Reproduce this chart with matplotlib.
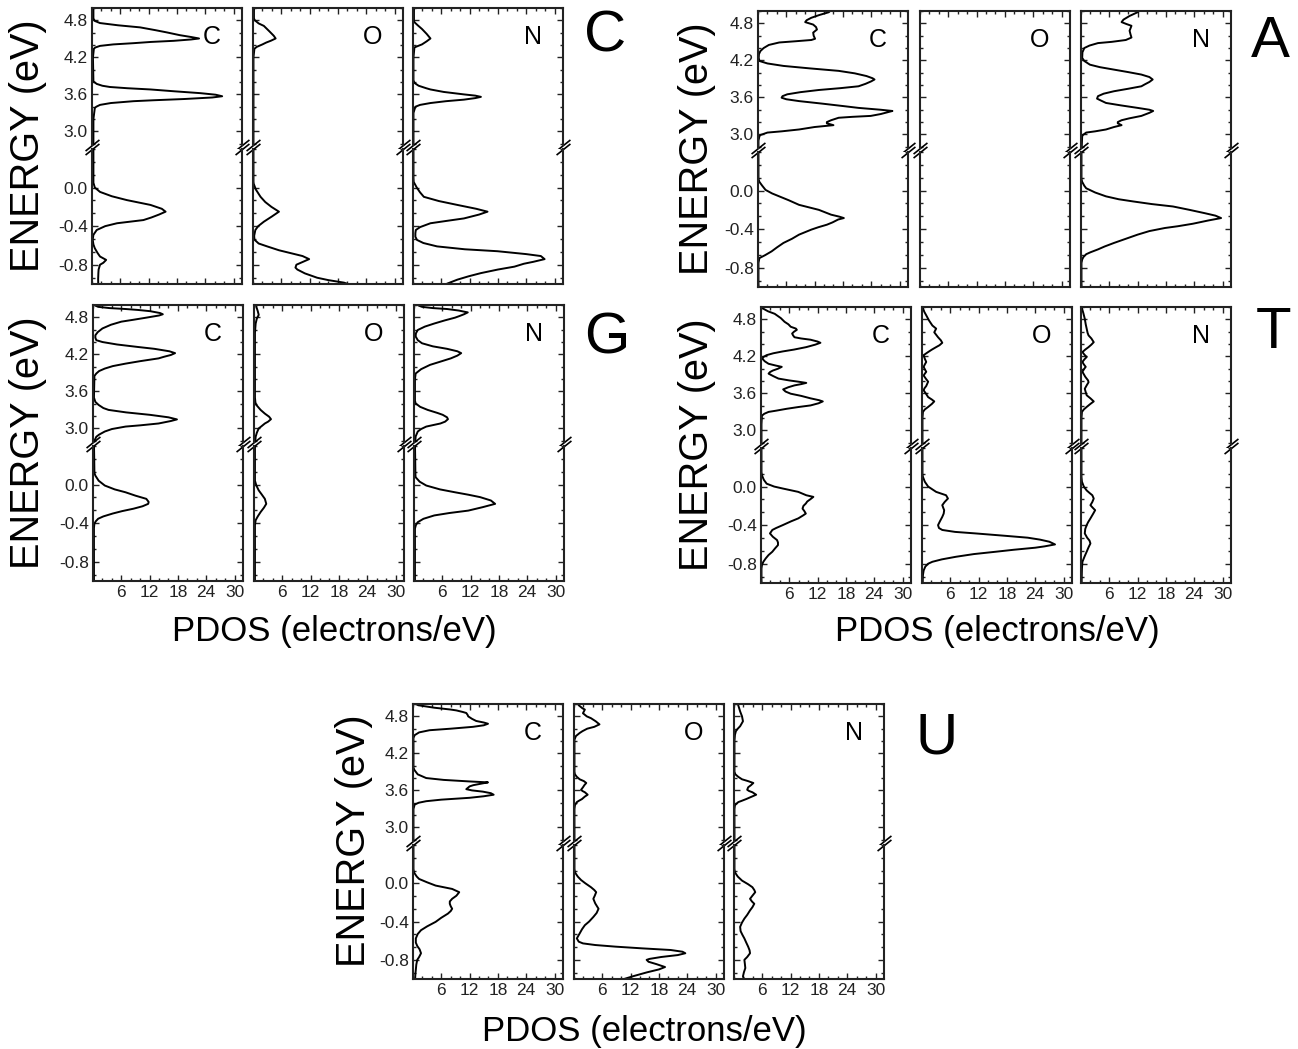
import matplotlib.pyplot as plt
from matplotlib.ticker import MultipleLocator, AutoMinorLocator

plt.rcParams['font.family'] = ['Liberation Sans', 'DejaVu Sans']

# PDOS curves: (energy eV, PDOS electrons/eV)
# "hi" = upper window (2.8..5.0 eV), "lo" = lower window (-1.0..0.4 eV)

# ---- C ----
C_C_hi = [(5.05, 0.3), (4.83, 0.3), (4.79, 0.6), (4.756, 1.7), (4.72, 5.5), (4.686, 10.2), (4.64, 13.5),
          (4.604, 15.9), (4.56, 18.6), (4.53, 21.0), (4.506, 22.7), (4.49, 21.0), (4.468, 17.3), (4.45, 12.5),
          (4.43, 8.8), (4.41, 4.5), (4.386, 1.7), (4.36, 0.7), (4.34, 0.4), (4.2, 0.2), (3.81, 0.3), (3.77, 1.0),
          (3.74, 2.2), (3.72, 3.8), (3.70, 7.5), (3.68, 12.4), (3.65, 17.5), (3.62, 23.0), (3.595, 26.2),
          (3.57, 27.6), (3.55, 25.5), (3.525, 19.5), (3.505, 13.0), (3.49, 8.8), (3.46, 4.0), (3.43, 1.7),
          (3.40, 0.9), (3.38, 0.6), (3.2, 0.3), (2.7, 0.3)]
C_C_lo = [(0.45, 0.3), (0.05, 0.3), (0.0, 0.6), (-0.045, 1.7), (-0.09, 4.2), (-0.13, 7.4), (-0.18, 12.4),
          (-0.22, 14.8), (-0.25, 15.6), (-0.28, 14.2), (-0.31, 12.6), (-0.337, 10.9), (-0.37, 5.3), (-0.40, 2.8),
          (-0.44, 1.0), (-0.49, 0.3), (-0.54, 0.15), (-0.59, 0.3), (-0.63, 0.6), (-0.68, 1.2), (-0.715, 1.7),
          (-0.75, 3.0), (-0.78, 2.4), (-0.80, 1.7), (-0.85, 1.4), (-0.887, 1.35), (-0.95, 1.3), (-1.05, 1.35)]
C_O_hi = [(5.05, 0.2), (4.83, 0.2), (4.80, 0.4), (4.75, 1.2), (4.71, 2.3), (4.62, 3.5), (4.55, 4.4),
          (4.506, 4.8), (4.47, 3.8), (4.44, 2.8), (4.41, 2.0), (4.37, 0.8), (4.34, 0.3), (4.2, 0.1), (2.7, 0.1)]
C_O_lo = [(0.45, 0.1), (0.06, 0.1), (0.04, 0.15), (-0.02, 0.6), (-0.096, 1.6), (-0.15, 2.6), (-0.20, 3.9),
          (-0.25, 5.5), (-0.30, 4.0), (-0.354, 2.3), (-0.40, 1.1), (-0.44, 0.5), (-0.50, 0.25), (-0.54, 0.3),
          (-0.58, 1.2), (-0.61, 3.0), (-0.65, 5.5), (-0.68, 8.0), (-0.71, 10.5), (-0.742, 11.9), (-0.77, 10.6),
          (-0.80, 9.2), (-0.83, 9.0), (-0.85, 9.4), (-0.89, 11.0), (-0.935, 13.6), (-0.96, 16.0),
          (-0.986, 19.3), (-1.05, 23.0)]
C_N_hi = [(5.05, 0.2), (4.80, 0.2), (4.77, 0.3), (4.72, 1.0), (4.66, 1.9), (4.58, 2.9), (4.506, 3.7),
          (4.46, 2.9), (4.41, 1.9), (4.38, 0.9), (4.36, 0.3), (4.2, 0.1), (3.83, 0.1), (3.786, 0.3), (3.74, 1.2),
          (3.70, 2.8), (3.68, 3.7), (3.64, 6.5), (3.60, 10.8), (3.58, 13.2), (3.56, 14.4), (3.54, 13.2),
          (3.515, 10.8), (3.49, 7.0), (3.46, 3.7), (3.43, 1.5), (3.40, 0.5), (3.3, 0.1), (2.7, 0.1)]
C_N_lo = [(0.45, 0.1), (0.10, 0.1), (0.058, 0.15), (0.0, 0.8), (-0.05, 1.5), (-0.096, 2.3), (-0.14, 5.5),
          (-0.18, 9.4), (-0.22, 13.4), (-0.25, 15.8), (-0.28, 14.0), (-0.32, 10.8), (-0.345, 7.2), (-0.37, 3.7),
          (-0.41, 1.5), (-0.44, 0.6), (-0.474, 0.5), (-0.51, 0.5), (-0.543, 0.85), (-0.575, 2.2), (-0.61, 5.1),
          (-0.64, 11.0), (-0.66, 17.9), (-0.69, 24.0), (-0.71, 27.1), (-0.742, 27.9), (-0.77, 25.5),
          (-0.79, 23.5), (-0.82, 21.5), (-0.85, 18.0), (-0.887, 14.4), (-0.92, 11.8), (-0.955, 9.4),
          (-0.997, 7.2), (-1.05, 5.5)]

# ---- A ----
A_C_hi = [(5.05, 16.0), (4.98, 15.0), (4.935, 13.0), (4.89, 11.3), (4.85, 10.3), (4.82, 10.0), (4.78, 11.7),
          (4.74, 12.3), (4.70, 12.5), (4.65, 11.7), (4.60, 11.8), (4.55, 12.1), (4.53, 11.3), (4.51, 8.0),
          (4.49, 4.5), (4.45, 2.3), (4.40, 1.2), (4.35, 0.5), (4.30, 0.2), (4.24, 0.15), (4.19, 0.3),
          (4.15, 2.0), (4.11, 5.4), (4.07, 11.0), (4.03, 17.1), (3.99, 20.5), (3.946, 23.0), (3.91, 24.3),
          (3.89, 24.7), (3.86, 24.0), (3.82, 22.8), (3.78, 21.3), (3.75, 17.5), (3.72, 12.9), (3.685, 9.0),
          (3.65, 6.2), (3.62, 5.2), (3.595, 5.0), (3.57, 6.0), (3.54, 8.7), (3.50, 13.5), (3.46, 18.0),
          (3.43, 21.3), (3.40, 26.0), (3.38, 28.5), (3.36, 27.5), (3.33, 26.0), (3.30, 23.9), (3.285, 20.0),
          (3.27, 17.1), (3.23, 15.5), (3.20, 14.6), (3.18, 14.6), (3.15, 16.0), (3.12, 12.0), (3.08, 8.7),
          (3.05, 5.0), (3.03, 2.0), (2.99, 0.5), (2.97, 0.3), (2.9, 0.1), (2.7, 0.1)]
A_C_lo = [(0.45, 0.1), (0.12, 0.1), (0.09, 0.3), (0.05, 0.9), (0.007, 1.6), (-0.03, 3.0), (-0.06, 4.5),
          (-0.10, 6.5), (-0.148, 8.7), (-0.20, 12.9), (-0.25, 15.5), (-0.27, 17.2), (-0.285, 18.2),
          (-0.30, 17.0), (-0.33, 15.8), (-0.354, 14.6), (-0.38, 12.8), (-0.405, 11.3), (-0.457, 8.7),
          (-0.50, 7.2), (-0.543, 5.4), (-0.59, 4.0), (-0.63, 2.9), (-0.67, 1.5), (-0.70, 0.3), (-0.75, 0.1),
          (-1.05, 0.1)]
A_O_hi = []
A_O_lo = []
A_N_hi = [(5.05, 13.0), (4.98, 12.0), (4.92, 10.3), (4.86, 9.0), (4.82, 8.6), (4.79, 9.6), (4.76, 10.7),
          (4.72, 10.5), (4.68, 10.3), (4.62, 10.5), (4.57, 10.7), (4.53, 9.5), (4.50, 6.5), (4.48, 3.6),
          (4.44, 1.8), (4.40, 0.7), (4.33, 0.3), (4.24, 0.25), (4.19, 0.7), (4.13, 1.9), (4.09, 4.0),
          (4.05, 7.0), (4.01, 10.0), (3.97, 12.8), (3.93, 14.5), (3.89, 15.2), (3.85, 14.5), (3.81, 13.5),
          (3.78, 12.8), (3.74, 10.0), (3.70, 7.0), (3.66, 4.8), (3.62, 3.6), (3.58, 3.4), (3.55, 4.2),
          (3.51, 5.3), (3.47, 8.5), (3.43, 12.0), (3.40, 14.5), (3.38, 15.3), (3.35, 14.5), (3.30, 12.8),
          (3.26, 10.2), (3.23, 8.6), (3.20, 7.8), (3.18, 7.8), (3.15, 8.6), (3.12, 7.0), (3.08, 5.3),
          (3.05, 3.0), (3.03, 1.1), (2.99, 0.4), (2.97, 0.25), (2.7, 0.1)]
A_N_lo = [(0.45, 0.1), (0.12, 0.1), (0.09, 0.25), (0.05, 0.7), (0.024, 1.1), (-0.02, 3.0), (-0.06, 5.3),
          (-0.09, 8.0), (-0.113, 11.1), (-0.14, 15.0), (-0.165, 19.5), (-0.20, 23.0), (-0.234, 26.2),
          (-0.26, 28.5), (-0.285, 29.7), (-0.31, 27.0), (-0.344, 23.7), (-0.37, 20.5), (-0.388, 17.8),
          (-0.42, 14.5), (-0.457, 12.0), (-0.50, 9.5), (-0.543, 7.0), (-0.58, 5.0), (-0.61, 3.6),
          (-0.64, 2.0), (-0.66, 1.1), (-0.69, 0.5), (-0.715, 0.25), (-0.75, 0.1), (-1.05, 0.1)]

# ---- G ----
G_C_hi = [(5.05, 0.3), (4.99, 0.5), (4.97, 1.1), (4.95, 3.5), (4.935, 6.9), (4.92, 9.5), (4.90, 12.1),
          (4.87, 14.2), (4.85, 14.8), (4.83, 14.0), (4.795, 11.3), (4.76, 8.5), (4.73, 6.0), (4.68, 3.8),
          (4.62, 2.0), (4.56, 1.0), (4.51, 0.5), (4.47, 0.5), (4.43, 0.7), (4.40, 2.0), (4.36, 5.1),
          (4.32, 9.5), (4.29, 13.0), (4.25, 16.2), (4.22, 17.4), (4.19, 16.5), (4.16, 15.0), (4.135, 13.9),
          (4.09, 10.0), (4.05, 6.9), (4.01, 4.2), (3.97, 2.5), (3.93, 1.3), (3.89, 0.7), (3.85, 0.3),
          (3.5, 0.2), (3.43, 0.5), (3.38, 1.2), (3.33, 2.2), (3.30, 3.3), (3.26, 7.0), (3.22, 12.1),
          (3.18, 16.0), (3.146, 17.8), (3.12, 16.5), (3.08, 13.9), (3.05, 10.0), (3.03, 6.9), (2.99, 4.0),
          (2.95, 2.5), (2.90, 1.3), (2.865, 0.7), (2.80, 0.3), (2.7, 0.2)]
G_C_lo = [(0.45, 0.2), (0.12, 0.3), (0.093, 0.5), (0.04, 1.2), (-0.01, 2.5), (-0.05, 4.6), (-0.08, 6.9),
          (-0.115, 9.0), (-0.148, 11.3), (-0.18, 11.8), (-0.20, 11.7), (-0.225, 10.5), (-0.25, 8.6),
          (-0.275, 6.2), (-0.30, 4.2), (-0.33, 2.2), (-0.354, 1.1), (-0.38, 0.6), (-0.405, 0.3), (-0.45, 0.2),
          (-1.05, 0.2)]
G_O_hi = [(5.05, 0.5), (4.97, 0.5), (4.90, 0.8), (4.84, 1.0), (4.78, 0.6), (4.70, 0.35), (4.55, 0.2),
          (3.50, 0.2), (3.42, 0.3), (3.38, 0.5), (3.30, 1.4), (3.24, 2.3), (3.19, 3.2), (3.15, 3.6),
          (3.11, 3.0), (3.08, 2.3), (3.03, 1.5), (3.0, 1.0), (2.93, 0.6), (2.865, 0.35), (2.7, 0.2)]
G_O_lo = [(0.45, 0.2), (0.04, 0.2), (-0.01, 0.5), (-0.06, 1.0), (-0.10, 1.6), (-0.148, 2.3), (-0.2, 2.6),
          (-0.24, 2.1), (-0.285, 1.4), (-0.33, 0.8), (-0.37, 0.35), (-0.42, 0.2), (-1.05, 0.2)]
G_N_hi = [(5.05, 0.5), (4.99, 1.0), (4.97, 1.7), (4.95, 4.0), (4.935, 7.0), (4.91, 9.5), (4.88, 11.4),
          (4.85, 10.6), (4.82, 9.6), (4.795, 8.7), (4.75, 6.5), (4.70, 4.3), (4.65, 2.3), (4.595, 0.8),
          (4.54, 0.4), (4.49, 0.35), (4.43, 0.8), (4.38, 1.7), (4.33, 4.0), (4.29, 7.0), (4.25, 9.2),
          (4.22, 10.0), (4.18, 9.2), (4.135, 7.8), (4.08, 5.5), (4.03, 3.4), (3.96, 1.5), (3.89, 0.35),
          (3.80, 0.2), (3.45, 0.2), (3.405, 0.35), (3.35, 1.3), (3.30, 2.9), (3.25, 5.0), (3.22, 6.1),
          (3.18, 7.0), (3.15, 7.2), (3.11, 6.6), (3.08, 5.6), (3.03, 2.6), (2.99, 1.5), (2.95, 0.8),
          (2.87, 0.35), (2.7, 0.2)]
G_N_lo = [(0.45, 0.2), (0.10, 0.3), (0.076, 0.35), (0.03, 1.2), (-0.01, 2.6), (-0.05, 5.5), (-0.08, 8.7),
          (-0.105, 11.5), (-0.13, 14.0), (-0.165, 16.3), (-0.20, 17.2), (-0.235, 14.5), (-0.27, 11.5),
          (-0.295, 7.5), (-0.32, 4.3), (-0.355, 2.0), (-0.39, 0.8), (-0.42, 0.4), (-0.457, 0.2), (-1.05, 0.2)]

# ---- T ----
T_C_hi = [(5.05, 0.2), (4.98, 0.3), (4.93, 1.5), (4.89, 2.9), (4.82, 4.2), (4.76, 5.0), (4.72, 5.8),
          (4.68, 6.3), (4.65, 7.4), (4.63, 7.6), (4.60, 7.0), (4.57, 6.6), (4.54, 6.8), (4.51, 7.1),
          (4.49, 8.5), (4.47, 10.5), (4.44, 12.0), (4.42, 12.6), (4.39, 11.5), (4.35, 9.6), (4.31, 7.0),
          (4.28, 4.6), (4.25, 2.6), (4.22, 1.2), (4.19, 0.5), (4.16, 0.3), (4.12, 0.8), (4.08, 1.6),
          (4.05, 3.2), (4.03, 4.4), (4.00, 3.6), (3.97, 2.5), (3.945, 1.9), (3.92, 1.6), (3.88, 2.6),
          (3.84, 3.7), (3.81, 6.0), (3.79, 7.9), (3.77, 9.6), (3.75, 8.5), (3.73, 7.1), (3.70, 5.8),
          (3.665, 4.7), (3.63, 5.2), (3.595, 6.3), (3.56, 8.5), (3.52, 10.5), (3.49, 12.3), (3.47, 13.1),
          (3.44, 12.2), (3.405, 10.5), (3.38, 8.0), (3.35, 5.4), (3.32, 3.2), (3.30, 1.6), (3.27, 0.7),
          (3.24, 0.2), (3.1, 0.1), (2.7, 0.1)]
T_C_lo = [(0.45, 0.1), (0.15, 0.1), (0.117, 0.2), (0.07, 0.6), (0.03, 1.2), (0.0, 2.8), (-0.02, 4.6),
          (-0.055, 7.9), (-0.09, 9.6), (-0.107, 11.1), (-0.13, 10.5), (-0.155, 9.8), (-0.176, 9.5),
          (-0.20, 9.0), (-0.228, 8.8), (-0.255, 9.2), (-0.28, 9.5), (-0.30, 8.9), (-0.33, 7.9), (-0.36, 6.4),
          (-0.40, 4.6), (-0.43, 3.2), (-0.45, 2.4), (-0.486, 1.9), (-0.52, 2.5), (-0.555, 3.4), (-0.58, 3.6),
          (-0.607, 3.6), (-0.64, 3.0), (-0.676, 2.4), (-0.71, 1.6), (-0.745, 1.0), (-0.78, 0.5),
          (-0.814, 0.2), (-0.85, 0.1), (-1.05, 0.1)]
T_O_hi = [(5.05, 0.1), (4.98, 0.2), (4.92, 0.5), (4.865, 0.9), (4.78, 1.5), (4.70, 2.2), (4.65, 3.0),
          (4.62, 2.8), (4.59, 2.6), (4.55, 3.0), (4.51, 3.4), (4.46, 4.0), (4.42, 4.3), (4.38, 3.7),
          (4.35, 3.0), (4.31, 2.1), (4.27, 1.3), (4.22, 0.35), (4.16, 0.6), (4.11, 0.9), (4.07, 0.6),
          (4.03, 0.35), (3.99, 0.6), (3.95, 0.9), (3.92, 0.6), (3.89, 0.35), (3.84, 0.8), (3.79, 1.3),
          (3.755, 1.1), (3.72, 0.9), (3.68, 0.5), (3.65, 0.35), (3.60, 0.8), (3.54, 1.3), (3.50, 2.1),
          (3.47, 2.6), (3.43, 2.1), (3.38, 1.3), (3.34, 0.6), (3.30, 0.2), (3.2, 0.1), (2.7, 0.1)]
T_O_lo = [(0.45, 0.1), (0.13, 0.1), (0.10, 0.2), (0.05, 0.6), (0.0, 1.3), (-0.055, 3.0), (-0.09, 5.1),
          (-0.124, 5.5), (-0.16, 4.8), (-0.193, 4.3), (-0.22, 4.5), (-0.245, 4.7), (-0.28, 4.6),
          (-0.314, 4.3), (-0.36, 3.8), (-0.40, 3.4), (-0.43, 3.6), (-0.45, 4.3), (-0.47, 7.0), (-0.486, 11.4),
          (-0.51, 17.5), (-0.53, 22.4), (-0.55, 25.0), (-0.572, 27.0), (-0.60, 28.2), (-0.62, 26.0),
          (-0.634, 24.0), (-0.655, 19.5), (-0.676, 15.6), (-0.70, 11.0), (-0.728, 7.2), (-0.755, 4.2),
          (-0.78, 2.2), (-0.80, 1.3), (-0.83, 0.7), (-0.87, 0.35), (-0.917, 0.2), (-1.05, 0.1)]
T_N_hi = [(5.05, 0.1), (4.98, 0.2), (4.90, 0.5), (4.81, 0.8), (4.72, 1.0), (4.65, 1.2), (4.58, 1.4),
          (4.54, 1.6), (4.49, 2.2), (4.43, 2.7), (4.39, 2.2), (4.35, 1.6), (4.31, 0.9), (4.27, 0.3),
          (4.23, 0.7), (4.19, 1.2), (4.15, 0.7), (4.11, 0.3), (4.07, 0.6), (4.03, 1.0), (3.99, 0.6),
          (3.95, 0.3), (3.87, 0.9), (3.81, 1.5), (3.78, 1.6), (3.73, 1.2), (3.675, 0.8), (3.62, 1.0),
          (3.57, 1.2), (3.52, 2.0), (3.47, 2.7), (3.43, 2.0), (3.38, 1.2), (3.34, 0.6), (3.30, 0.2),
          (3.2, 0.1), (2.7, 0.1)]
T_N_lo = [(0.45, 0.1), (0.10, 0.1), (0.05, 0.2), (0.0, 0.6), (-0.04, 1.2), (-0.07, 1.9), (-0.09, 2.4),
          (-0.124, 2.7), (-0.16, 2.4), (-0.193, 2.0), (-0.22, 2.5), (-0.245, 3.0), (-0.28, 2.6), (-0.33, 2.0),
          (-0.37, 1.5), (-0.40, 1.2), (-0.44, 0.9), (-0.486, 0.8), (-0.53, 1.3), (-0.56, 1.8), (-0.59, 2.0),
          (-0.63, 1.6), (-0.676, 1.2), (-0.72, 0.8), (-0.78, 0.3), (-0.85, 0.2), (-1.05, 0.1)]

# ---- U ----
U_C_hi = [(5.05, 0.3), (5.0, 0.6), (4.98, 1.1), (4.94, 4.5), (4.91, 8.0), (4.896, 9.2), (4.87, 10.6),
          (4.854, 11.3), (4.82, 11.6), (4.80, 11.7), (4.76, 12.5), (4.725, 13.4), (4.70, 15.0), (4.68, 15.9),
          (4.655, 15.0), (4.63, 12.7), (4.60, 8.0), (4.575, 3.5), (4.54, 1.3), (4.495, 0.35), (4.45, 0.1),
          (3.97, 0.1), (3.93, 0.3), (3.86, 1.0), (3.80, 2.8), (3.77, 6.5), (3.745, 12.0), (3.73, 15.9),
          (3.71, 14.5), (3.685, 12.8), (3.665, 12.0), (3.62, 11.3), (3.60, 12.5), (3.58, 14.8), (3.555, 16.5),
          (3.53, 17.1), (3.505, 15.0), (3.48, 12.0), (3.45, 6.0), (3.425, 2.8), (3.40, 1.2), (3.37, 0.35),
          (3.3, 0.1), (2.7, 0.1)]
U_C_lo = [(0.45, 0.1), (0.15, 0.1), (0.114, 0.2), (0.07, 0.8), (0.045, 1.3), (0.01, 3.0), (-0.024, 4.8),
          (-0.059, 8.3), (-0.093, 9.8), (-0.13, 9.2), (-0.162, 8.3), (-0.19, 7.8), (-0.214, 7.8), (-0.24, 8.0),
          (-0.266, 8.3), (-0.29, 8.0), (-0.317, 7.4), (-0.36, 6.0), (-0.403, 4.8), (-0.45, 3.0), (-0.49, 1.7),
          (-0.53, 1.0), (-0.576, 0.6), (-0.62, 0.6), (-0.655, 0.9), (-0.69, 1.4), (-0.731, 1.7), (-0.77, 1.3),
          (-0.80, 0.9), (-0.85, 0.7), (-0.903, 0.6), (-0.95, 0.5), (-1.05, 0.4)]
U_O_hi = [(5.05, 0.6), (4.98, 1.0), (4.93, 1.8), (4.91, 2.3), (4.88, 2.1), (4.85, 1.9), (4.80, 2.7),
          (4.77, 3.6), (4.72, 4.6), (4.67, 5.4), (4.63, 4.3), (4.60, 2.8), (4.56, 1.8), (4.53, 1.2),
          (4.48, 0.4), (4.42, 0.1), (3.9, 0.1), (3.86, 0.2), (3.82, 0.6), (3.78, 1.2), (3.75, 2.1), (3.72, 2.6),
          (3.685, 2.2), (3.65, 1.9), (3.61, 1.5), (3.59, 1.8), (3.57, 2.3), (3.53, 2.9), (3.50, 2.3),
          (3.46, 1.7), (3.43, 1.0), (3.41, 0.6), (3.36, 0.2), (3.3, 0.1), (2.7, 0.1)]
U_O_lo = [(0.45, 0.1), (0.15, 0.1), (0.114, 0.2), (0.07, 0.8), (0.034, 1.5), (0.0, 2.4), (-0.041, 3.6),
          (-0.07, 4.3), (-0.093, 4.7), (-0.13, 4.4), (-0.162, 4.1), (-0.21, 4.5), (-0.266, 5.2), (-0.31, 4.8),
          (-0.352, 4.1), (-0.40, 3.2), (-0.438, 2.3), (-0.48, 1.7), (-0.524, 1.2), (-0.576, 0.6), (-0.61, 1.0),
          (-0.628, 1.9), (-0.645, 4.5), (-0.662, 8.8), (-0.68, 14.5), (-0.697, 20.5), (-0.715, 23.0),
          (-0.731, 23.6), (-0.75, 22.0), (-0.77, 18.5), (-0.79, 16.0), (-0.80, 15.4), (-0.82, 15.8),
          (-0.845, 17.5), (-0.875, 19.3), (-0.90, 18.0), (-0.93, 15.5), (-0.97, 12.6), (-1.0, 10.6),
          (-1.05, 8.5)]
U_N_hi = [(5.05, 0.6), (4.98, 0.9), (4.88, 1.3), (4.80, 1.7), (4.72, 1.9), (4.68, 1.6), (4.64, 1.3),
          (4.60, 0.8), (4.56, 0.4), (4.50, 0.2), (4.4, 0.1), (3.9, 0.1), (3.86, 0.3), (3.82, 0.9), (3.78, 1.7),
          (3.75, 3.0), (3.72, 4.1), (3.685, 3.6), (3.65, 3.0), (3.61, 2.8), (3.59, 3.2), (3.57, 3.9),
          (3.53, 4.7), (3.50, 3.8), (3.46, 2.6), (3.43, 1.6), (3.41, 0.9), (3.36, 0.2), (3.3, 0.1), (2.7, 0.1)]
U_N_lo = [(0.45, 0.1), (0.15, 0.1), (0.114, 0.2), (0.07, 0.8), (0.028, 1.7), (-0.01, 3.0), (-0.041, 3.9),
          (-0.07, 4.3), (-0.093, 4.5), (-0.13, 3.9), (-0.162, 3.4), (-0.19, 3.8), (-0.214, 4.3), (-0.25, 3.9),
          (-0.283, 3.4), (-0.33, 2.8), (-0.369, 2.2), (-0.41, 1.7), (-0.455, 1.3), (-0.50, 1.4), (-0.54, 1.8),
          (-0.576, 2.2), (-0.62, 2.6), (-0.662, 3.0), (-0.70, 3.3), (-0.731, 3.4), (-0.77, 2.8), (-0.80, 2.2),
          (-0.84, 2.3), (-0.886, 2.4), (-0.93, 2.1), (-0.972, 1.9), (-1.007, 2.2), (-1.05, 2.2)]

atoms = ['C', 'O', 'N']
hi_ticks = [3.0, 3.6, 4.2, 4.8]
lo_ticks = [0.0, -0.4, -0.8]
x_ticks = [6, 12, 18, 24, 30]

W, H = 1298, 1049
fig = plt.figure(figsize=(W / 100, H / 100), dpi=100)


def frac(l, t, w, h):
    return [l / W, 1 - (t + h) / H, w / W, h / H]


def px(x, y):
    return x / W, 1 - y / H


HI_LIM = (2.78, 5.0)
LO_LIM = (-1.0, 0.40)
XLIM = (0, 31.8)

groups = [
    dict(name='C', curves=[(C_C_hi, C_C_lo), (C_O_hi, C_O_lo), (C_N_hi, C_N_lo)],
         top=8, bot=284, lefts=(92, 253, 413), letter=(605, 37), ylab=(28, 146), xlab=None),
    dict(name='A', curves=[(A_C_hi, A_C_lo), (A_O_hi, A_O_lo), (A_N_hi, A_N_lo)],
         top=11, bot=287, lefts=(758, 920, 1081), letter=(1270, 42), ylab=(697, 149), xlab=None),
    dict(name='G', curves=[(G_C_hi, G_C_lo), (G_O_hi, G_O_lo), (G_N_hi, G_N_lo)],
         top=305, bot=581, lefts=(93, 254, 414), letter=(607, 338), ylab=(28, 443), xlab=(334, 632)),
    dict(name='T', curves=[(T_C_hi, T_C_lo), (T_O_hi, T_O_lo), (T_N_hi, T_N_lo)],
         top=307, bot=583, lefts=(761, 922, 1081), letter=(1274, 333), ylab=(697, 445), xlab=(997, 632)),
    dict(name='U', curves=[(U_C_hi, U_C_lo), (U_O_hi, U_O_lo), (U_N_hi, U_N_lo)],
         top=704, bot=979, lefts=(413, 574, 734), letter=(937, 738), ylab=(354, 841), xlab=(644, 1031)),
]

PW = 150
GAP = 4
brk = dict(marker=[(-1, -0.8), (1, 0.8)], markersize=10, linestyle='none', color='k',
           mec='k', mew=1.2, clip_on=False)

for g in groups:
    hp = g['bot'] - g['top']
    hu = round(hp * 0.497)
    hl = hp - hu - GAP
    for i, (atom, (hi, lo)) in enumerate(zip(atoms, g['curves'])):
        L = g['lefts'][i]
        axu = fig.add_axes(frac(L, g['top'], PW, hu))
        axl = fig.add_axes(frac(L, g['top'] + hu + GAP, PW, hl))
        for ax, pts, lim in ((axu, hi, HI_LIM), (axl, lo, LO_LIM)):
            if pts:
                e, d = zip(*pts)
                ax.plot(d, e, color='k', lw=1.4, solid_joinstyle='round')
            ax.set_xlim(*XLIM)
            ax.set_ylim(*lim)
            ax.xaxis.set_major_locator(plt.FixedLocator(x_ticks))
            ax.xaxis.set_minor_locator(MultipleLocator(2))
            ax.yaxis.set_minor_locator(AutoMinorLocator(3))
            for s in ax.spines.values():
                s.set_linewidth(1.5)
                s.set_color('#222222')
            ax.tick_params(which='both', direction='in', left=True, right=True, width=1.0,
                           labelsize=12.5, pad=3, colors='#222222')
            ax.tick_params(which='major', length=4)
            ax.tick_params(which='minor', length=2.5)
        axu.set_yticks(hi_ticks)
        axl.set_yticks(lo_ticks)
        axu.spines['bottom'].set_visible(False)
        axl.spines['top'].set_visible(False)
        axu.tick_params(which='both', top=True, bottom=False, labelbottom=False)
        axl.tick_params(which='both', top=False, bottom=True)
        if i == 0:
            axu.set_yticklabels(['%.1f' % v for v in hi_ticks])
            axl.set_yticklabels(['0.0', '-0.4', '-0.8'])
        else:
            axu.tick_params(labelleft=False)
            axl.tick_params(labelleft=False)
        if g['xlab'] is not None:
            axl.set_xticklabels([str(v) for v in x_ticks])
        else:
            axl.tick_params(labelbottom=False)
        axu.plot([0, 1], [0, 0], transform=axu.transAxes, **brk)
        axl.plot([0, 1], [1, 1], transform=axl.transAxes, **brk)
        axu.text(1 - 30 / PW, 1 - 29 / hu, atom, transform=axu.transAxes,
                 ha='center', va='center', fontsize=18)
    fig.text(*px(*g['letter']), g['name'], ha='center', va='center', fontsize=42)
    fig.text(*px(*g['ylab']), 'ENERGY (eV)', rotation=90, ha='center', va='center', fontsize=28.5)
    if g['xlab'] is not None:
        fig.text(*px(*g['xlab']), 'PDOS (electrons/eV)', ha='center', va='center', fontsize=25)

fig.savefig('out.png', dpi=100)
